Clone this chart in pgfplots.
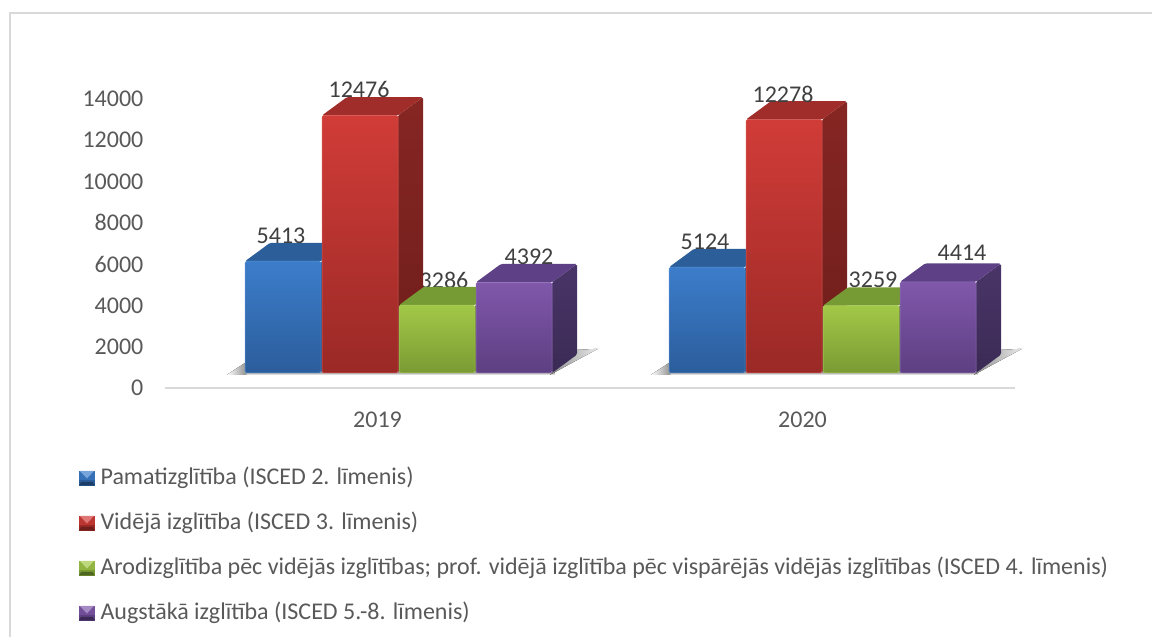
\documentclass[border=0pt]{standalone}
\usepackage{pgfplots}
\pgfplotsset{compat=1.18}
\usepackage{fontspec}
\setmainfont{Carlito}
\definecolor{txt}{HTML}{595959}
\definecolor{lab}{HTML}{404040}
\definecolor{grid}{HTML}{D9D9D9}
\definecolor{aT}{HTML}{3C7DCB}\definecolor{aB}{HTML}{2B5D9B}\definecolor{aU}{HTML}{2C5F9A}\definecolor{aS}{HTML}{234C7C}\definecolor{aD}{HTML}{1C3E66}
\definecolor{bT}{HTML}{D13C38}\definecolor{bB}{HTML}{9A2926}\definecolor{bU}{HTML}{A12D2A}\definecolor{bS}{HTML}{862623}\definecolor{bD}{HTML}{6E1E1B}
\definecolor{cT}{HTML}{A2C847}\definecolor{cB}{HTML}{799A33}\definecolor{cU}{HTML}{769A34}\definecolor{cS}{HTML}{5F7C2A}\definecolor{cD}{HTML}{4E6622}
\definecolor{dT}{HTML}{8058AB}\definecolor{dB}{HTML}{5E3F82}\definecolor{dU}{HTML}{5E4086}\definecolor{dS}{HTML}{4A3568}\definecolor{dD}{HTML}{3B2A55}
\newcommand\lf{\fontsize{24}{28}\selectfont}
% #1 left edge (px), #2 value, #3 colour prefix
\newcommand\cube[3]{%
  \pgfmathsetmacro\xa{#1}\pgfmathsetmacro\xb{#1+76}%
  \pgfmathsetmacro\xc{#1+101}\pgfmathsetmacro\xd{#1+25}%
  \pgfmathsetmacro\ya{727}\pgfmathsetmacro\yb{727+#2}%
  \pgfmathsetmacro\yc{727+#2+891}\pgfmathsetmacro\ye{727+891}%
  \edef\temp{\noexpand\addplot[forget plot,draw=none,rounded corners=1.5pt,top color=#3S,bottom color=#3D]
    coordinates {(\xb,\ya) (\xc,\ye) (\xc,\yc) (\xb,\yb)} -- cycle;}\temp
  \edef\temp{\noexpand\addplot[forget plot,draw=none,fill=#3U,rounded corners=1.5pt]
    coordinates {(\xa,\yb) (\xd,\yc) (\xc,\yc) (\xb,\yb)} -- cycle;}\temp
  \edef\temp{\noexpand\addplot[forget plot,draw=#3T!85!white,line width=.5pt,rounded corners=1.5pt,top color=#3T,bottom color=#3B]
    coordinates {(\xa,\ya) (\xa,\yb) (\xb,\yb) (\xb,\ya)} -- cycle;}\temp
}
% legend key: a small bevelled square
\newcommand\keyimg[1]{\addlegendimage{legend image code/.code={
  \begin{scope}[yshift=1pt]
  \fill[#1T!90!black] (0pt,-7pt) rectangle (15pt,7pt);
  \fill[#1B] (0pt,-2pt) rectangle (15pt,-7pt);
  \fill[#1D] (0pt,-7pt) -- (15pt,-7pt) -- (13pt,-4pt) -- (2pt,-4pt) -- cycle;
  \fill[#1T!70!white] (1pt,7pt) -- (14pt,7pt) -- (7.5pt,0pt) -- cycle;
  \end{scope}
}}}
\begin{document}
\begin{tikzpicture}[x=1pt,y=1pt]
\path[use as bounding box] (0,0) rectangle (1152,637);
\draw[grid,line width=1.6pt] (10,-2) -- (10,624) -- (1154,624);
\begin{axis}[
  at={(165pt,249pt)},anchor=south west,
  scale only axis,width=850pt,height=289pt,
  xmin=165,xmax=1015,ymin=0,ymax=14000,
  clip=false,
  axis x line=bottom,axis y line=left,
  axis line style={-},
  x axis line style={draw=grid,line width=1.4pt},
  y axis line style={draw=none},
  tick style={draw=none},
  scaled ticks=false,
  xtick={377.5,802.5},xticklabels={2019,2020},
  ytick={0,2000,4000,6000,8000,10000,12000,14000},
  /pgf/number format/.cd,1000 sep={},assume math mode=true,/pgfplots/.cd,
  tick label style={font=\lf,text=txt},
  yticklabel style={anchor=east,xshift=-16pt},
  xticklabel style={anchor=center,yshift=-30pt},
  legend style={at={(axis cs:79,-3848)},anchor=north west,draw=none,fill=none,inner sep=0pt,
    row sep=22pt,font=\lf,text=txt,
    nodes={text height=17pt,text depth=6pt,inner ysep=0pt,inner xsep=0pt},
    /tikz/every odd column/.append style={column sep=6pt}},
  legend cell align=left,
]
\keyimg{a}\addlegendentry{Pamatizglītība (ISCED 2. līmenis)}
\keyimg{b}\addlegendentry{Vidējā izglītība (ISCED 3. līmenis)}
\keyimg{c}\addlegendentry{Arodizglītība pēc vidējās izglītības; prof. vidējā izglītība pēc vispārējās vidējās izglītības (ISCED 4. līmenis)}
\keyimg{d}\addlegendentry{Augstākā izglītība (ISCED 5.-8. līmenis)}
% floor shadows
\fill[top color=gray!55,bottom color=white] (axis cs:236,727) rectangle (axis cs:555,630);
\fill[top color=gray!55,bottom color=white] (axis cs:660,727) rectangle (axis cs:978,630);
\fill[left color=white,right color=gray!85] (axis cs:227,640) -- (axis cs:246,1250) -- (axis cs:246,640) -- cycle;
\fill[left color=gray!90,right color=gray!15] (axis cs:550,640) -- (axis cs:577,1850) -- (axis cs:598,1900) -- cycle;
\fill[left color=white,right color=gray!85] (axis cs:651,640) -- (axis cs:670,1250) -- (axis cs:670,640) -- cycle;
\fill[left color=gray!90,right color=gray!15] (axis cs:974,640) -- (axis cs:1001,1850) -- (axis cs:1022,1900) -- cycle;
% labels that lie behind a neighbouring bar
\node[font=\lf,text=lab] at (axis cs:444,5233) {3286};
\node[font=\lf,text=lab] at (axis cs:873,5233) {3259};
% 2019
\cube{245}{5413}{a}
\cube{322}{12476}{b}
\cube{399}{3286}{c}
\cube{476}{4392}{d}
% 2020
\cube{669}{5124}{a}
\cube{746}{12278}{b}
\cube{823}{3259}{c}
\cube{900}{4414}{d}
% data labels
\node[font=\lf,text=lab] at (axis cs:281,7364) {5413};
\node[font=\lf,text=lab] at (axis cs:359,14438) {12476};
\node[font=\lf,text=lab] at (axis cs:529,6347) {4392};
\node[font=\lf,text=lab] at (axis cs:705,7074) {5124};
\node[font=\lf,text=lab] at (axis cs:783,14244) {12278};
\node[font=\lf,text=lab] at (axis cs:962,6541) {4414};
\end{axis}
\end{tikzpicture}
\end{document}
